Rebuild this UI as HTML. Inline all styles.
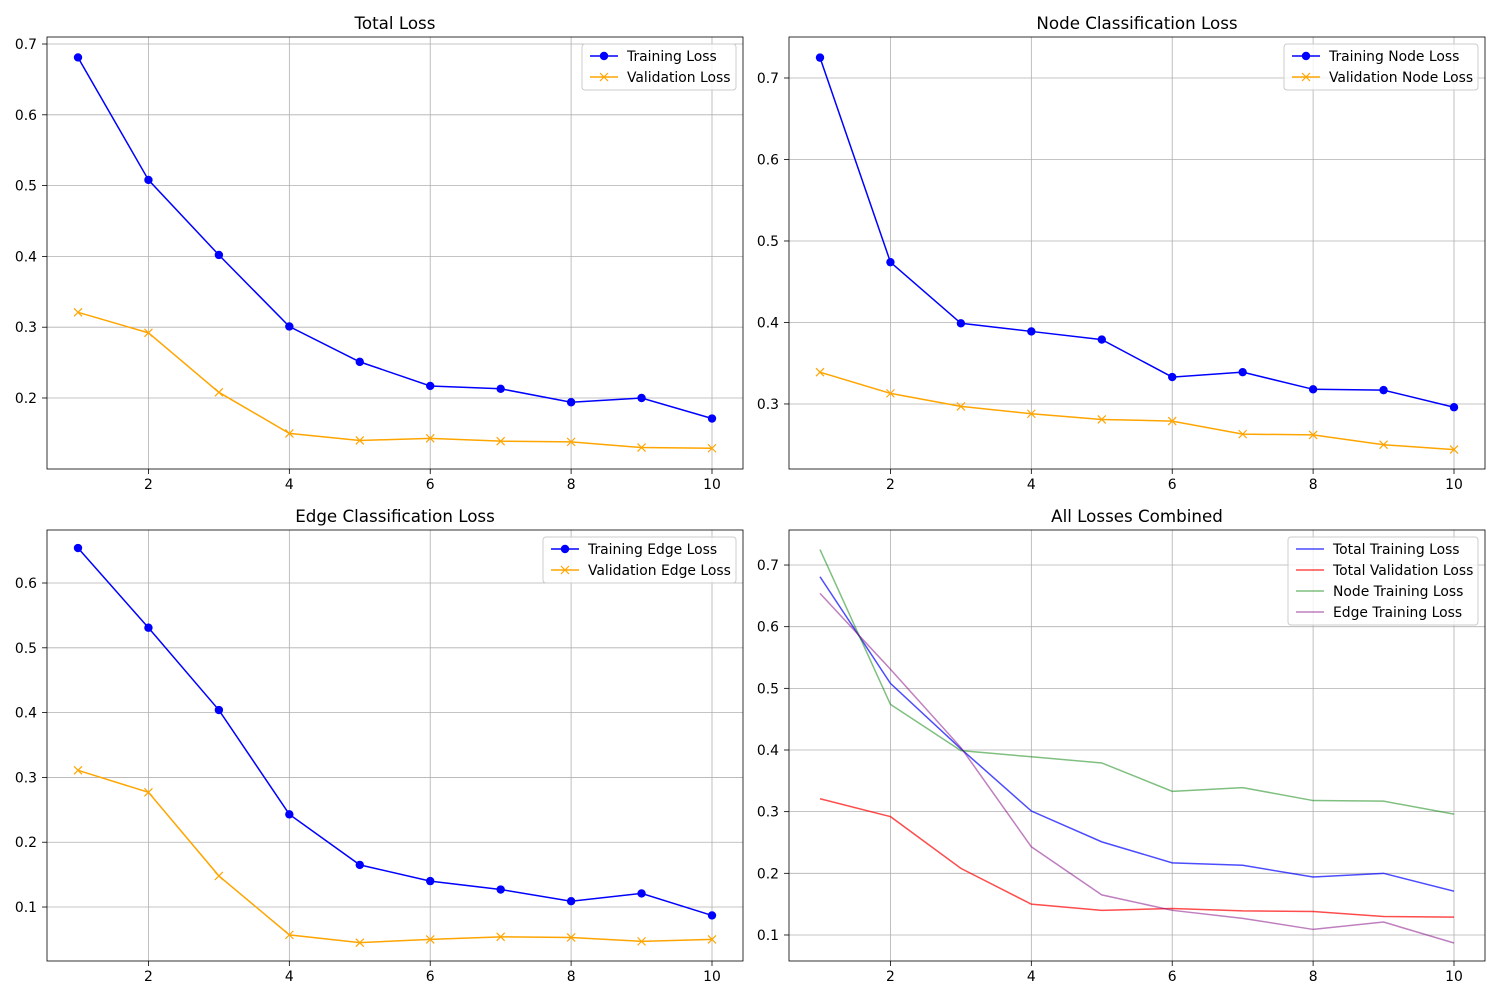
<!DOCTYPE html>
<html><head><meta charset="utf-8"><style>
body{margin:0;background:#fff;font-family:"DejaVu Sans","Liberation Sans",sans-serif}
svg text{font-family:"DejaVu Sans","Liberation Sans",sans-serif}
</style></head><body>
<svg id="c" width="1500" height="1000" xmlns="http://www.w3.org/2000/svg"></svg>
<script>
const epochs=[1,2,3,4,5,6,7,8,9,10];
const xTicks=[2,4,6,8,10];
const totalTrain=[0.681,0.508,0.402,0.301,0.251,0.217,0.213,0.194,0.200,0.171];
const totalVal=[0.321,0.292,0.208,0.150,0.140,0.143,0.139,0.138,0.130,0.129];
const nodeTrain=[0.725,0.474,0.399,0.389,0.379,0.333,0.339,0.318,0.317,0.296];
const nodeVal=[0.339,0.313,0.297,0.288,0.281,0.279,0.263,0.262,0.250,0.244];
const edgeTrain=[0.654,0.531,0.404,0.243,0.165,0.140,0.127,0.109,0.121,0.087];
const edgeVal=[0.311,0.277,0.148,0.057,0.045,0.050,0.054,0.053,0.047,0.050];
const yTicksTotal=[0.2,0.3,0.4,0.5,0.6,0.7];
const yTicksNode=[0.3,0.4,0.5,0.6,0.7];
const yTicksEdge=[0.1,0.2,0.3,0.4,0.5,0.6];
const yTicksAll=[0.1,0.2,0.3,0.4,0.5,0.6,0.7];

const svg=document.getElementById('c');
const NS='http://www.w3.org/2000/svg';
function mk(tag,attrs,parent){const e=document.createElementNS(NS,tag);for(const k in attrs)e.setAttribute(k,attrs[k]);(parent||svg).appendChild(e);return e;}

function panel(name,title,box,ymin,ymax,yTicks,series,legend){
  const g=mk('g',{});
  
  
  const [L,T,R,B]=box;
  const xs=v=>L+31+(v-1)*(R-L-62)/9;
  const ys=v=>B-(v-ymin)/(ymax-ymin)*(B-T);
  xTicks.forEach(t=>{
    mk('line',{x1:xs(t),x2:xs(t),y1:T,y2:B,stroke:'#b0b0b0','stroke-width':0.8},g);
    mk('line',{x1:xs(t),x2:xs(t),y1:B,y2:B+5,stroke:'#000','stroke-width':0.8},g);
    const tx=mk('text',{x:xs(t),y:B+20,'font-size':13.9,'text-anchor':'middle'},g);tx.textContent=t;
    
    
  });
  yTicks.forEach(t=>{
    mk('line',{x1:L,x2:R,y1:ys(t),y2:ys(t),stroke:'#b0b0b0','stroke-width':0.8},g);
    mk('line',{x1:L-5,x2:L,y1:ys(t),y2:ys(t),stroke:'#000','stroke-width':0.8},g);
    const tx=mk('text',{x:L-10,y:ys(t)+5,'font-size':13.9,'text-anchor':'end'},g);tx.textContent=t.toFixed(1);
    
    
  });
  series.forEach(s=>{
    const pts=epochs.map((e,i)=>xs(e)+','+ys(s.data[i])).join(' ');
    const pl=mk('polyline',{points:pts,fill:'none',stroke:s.color,'stroke-width':1.5,'stroke-opacity':s.alpha||1},g);
    
    
    epochs.forEach((e,i)=>{
      const x=xs(e),y=ys(s.data[i]);
      if(s.marker==='o')mk('circle',{cx:x,cy:y,r:4.2,fill:s.color},g);
      else if(s.marker==='x'){mk('path',{d:`M${x-4},${y-4}L${x+4},${y+4}M${x-4},${y+4}L${x+4},${y-4}`,stroke:s.color,'stroke-width':1.2},g);}
    });
  });
  mk('rect',{x:L,y:T,width:R-L,height:B-T,fill:'none',stroke:'#000','stroke-width':0.8},g);
  const tt=mk('text',{x:(L+R)/2,y:T-8,'font-size':16.7,'text-anchor':'middle'},g);tt.textContent=title;
  
  
  const lg=mk('g',{},g);
  
  
  const h=series.length*21+4;
  mk('rect',{x:R-7-legend,y:T+7,width:legend,height:h,rx:3,fill:'#fff','fill-opacity':0.8,stroke:'#ccc','stroke-width':1},lg);
  series.forEach((s,i)=>{
    const y=T+19+i*21,x0=R-7-legend+8;
    mk('line',{x1:x0,x2:x0+28,y1:y,y2:y,stroke:s.color,'stroke-width':1.5,'stroke-opacity':s.alpha||1},lg);
    if(s.marker==='o')mk('circle',{cx:x0+14,cy:y,r:4.2,fill:s.color},lg);
    else if(s.marker==='x')mk('path',{d:`M${x0+10},${y-4}L${x0+18},${y+4}M${x0+10},${y+4}L${x0+18},${y-4}`,stroke:s.color,'stroke-width':1.2},lg);
    const t=mk('text',{x:x0+37,y:y+5,'font-size':13.9},lg);t.textContent=s.label;
    
    
  });
}
panel('total-loss-chart','Total Loss',[47,37,743,469],0.0997,0.7099,yTicksTotal,[
 {id:'training-loss-line',label:'Training Loss',data:totalTrain,color:'#0000ff',marker:'o'},
 {id:'validation-loss-line',label:'Validation Loss',data:totalVal,color:'#ffa500',marker:'x'}],154);
panel('node-loss-chart','Node Classification Loss',[789,37,1485,469],0.2202,0.7503,yTicksNode,[
 {id:'training-node-loss-line',label:'Training Node Loss',data:nodeTrain,color:'#0000ff',marker:'o'},
 {id:'validation-node-loss-line',label:'Validation Node Loss',data:nodeVal,color:'#ffa500',marker:'x'}],194);
panel('edge-loss-chart','Edge Classification Loss',[47,530,743,961],0.0167,0.6818,yTicksEdge,[
 {id:'training-edge-loss-line',label:'Training Edge Loss',data:edgeTrain,color:'#0000ff',marker:'o'},
 {id:'validation-edge-loss-line',label:'Validation Edge Loss',data:edgeVal,color:'#ffa500',marker:'x'}],193);
panel('all-losses-chart','All Losses Combined',[789,530,1485,961],0.0578,0.7568,yTicksAll,[
 {id:'total-training-loss-line',label:'Total Training Loss',data:totalTrain,color:'#0000ff',alpha:0.7},
 {id:'total-validation-loss-line',label:'Total Validation Loss',data:totalVal,color:'#ff0000',alpha:0.7},
 {id:'node-training-loss-line',label:'Node Training Loss',data:nodeTrain,color:'#008000',alpha:0.5},
 {id:'edge-training-loss-line',label:'Edge Training Loss',data:edgeTrain,color:'#800080',alpha:0.5}],190);
</script>
</body></html>
